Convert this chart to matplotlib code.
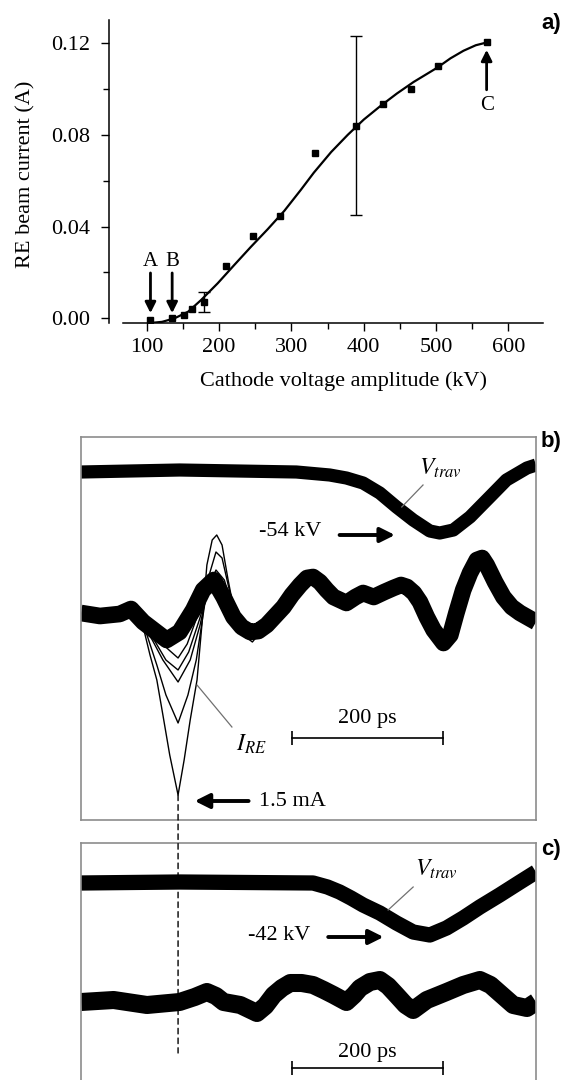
"""
RE beam current vs cathode voltage (a) and overlaid scope traces of the
travelling voltage pulse and RE current for two shots (b, c).
"""

import matplotlib.pyplot as plt
from matplotlib.patches import ConnectionPatch
from matplotlib.ticker import FixedLocator, MultipleLocator, FormatStrFormatter


# -----------------------------------------------------------------------------
# Data
# -----------------------------------------------------------------------------

# panel a: measured points
voltage_kv = [105, 135, 151, 162, 179, 210, 247, 284, 332, 389, 427, 466, 503, 570]
current_a = [-0.0007, 0.0, 0.0014, 0.0039, 0.0073, 0.0229, 0.0359, 0.0448,
             0.072, 0.084, 0.0933, 0.100, 0.110, 0.1202]

# only two points carry error bars
err_voltage_kv = [179, 389]
err_current_a = [0.0073, 0.084]
err_size_a = [0.0044, 0.039]

# fitted curve
fit_kv = [108, 121, 138, 157, 175, 198, 221, 244, 267, 290, 313, 331, 355,
          378, 400, 423, 446, 469, 490, 502, 520, 538, 555, 570]
fit_a = [-0.0019, -0.0015, 0.0, 0.0029, 0.008, 0.0153, 0.0233, 0.0312, 0.0388,
         0.0468, 0.0560, 0.0635, 0.0725, 0.0800, 0.0866, 0.0925, 0.098, 0.1030,
         0.107, 0.1093, 0.1133, 0.1166, 0.119, 0.1202]

# arrow markers A, B, C : (kV, tail, head, label y)
marker_labels = ["A", "B", "C"]
marker_kv = [105, 135, 570]
marker_tail_a = [0.0198, 0.0198, 0.0996]
marker_head_a = [0.0023, 0.0023, 0.1170]
marker_text_a = [0.0246, 0.0246, 0.0926]

# panel b: travelling voltage pulse (bundle centre)
b_vtrav_ps = [0, 130, 284, 328, 350, 372, 394, 416, 438, 460, 473, 491, 513,
              539, 561, 588, 600]
b_vtrav = [348, 350, 348, 345, 342, 337, 327, 313, 300, 289, 287, 290, 303,
           323, 340, 352, 355]

# panel b: RE current (bundle centre)
b_ire_ps = [0, 25, 51, 66, 82, 113, 130, 148, 161, 175, 188, 201, 212, 223, 234,
            245, 256, 267, 278, 289, 298, 306, 315, 324, 333, 350, 362, 372, 386,
            400, 412, 422, 430, 439, 447, 456, 465, 478, 487, 495, 504, 513, 522,
            529, 535, 546, 557, 568, 579, 600]
b_ire = [207, 204, 206, 211, 198, 180, 188, 210, 230, 240, 223, 203, 193, 188, 189,
         195, 204, 213, 225, 235, 242, 243, 238, 230, 223, 217, 223, 227, 223,
         228, 232, 235, 233, 227, 218, 203, 190, 177, 185, 207, 230, 247, 260,
         262, 255, 238, 223, 213, 207, 198]

# panel b: individual RE current shots that stand out of the bundle
b_shot1_ps = [65, 82, 91, 100, 108, 117, 128, 136, 144, 153, 160, 166, 173,
              179, 186, 194, 203, 214, 226, 239, 252]
b_shot1 = [205, 193, 165, 140, 105, 65, 25, 60, 100, 140, 200, 255, 280,
           285, 275, 240, 205, 185, 178, 190, 210]
b_shot2_ps = [71, 87, 100, 112, 128, 141, 152, 161, 169, 178, 186, 195, 206, 218, 231, 247]
b_shot2 = [203, 185, 155, 125, 97, 125, 160, 205, 245, 268, 262, 232, 200, 182, 185, 205]
b_shot3_ps = [78, 94, 108, 128, 144, 157, 167, 178, 189, 199, 212, 229]
b_shot3 = [200, 180, 160, 138, 160, 195, 230, 250, 240, 215, 195, 190]
b_shot4_ps = [80, 98, 112, 128, 142, 156, 168, 180, 195, 212]
b_shot4 = [198, 178, 160, 150, 168, 200, 230, 245, 225, 200]
b_shot5_ps = [84, 102, 116, 128, 140, 154, 168, 182, 200]
b_shot5 = [196, 180, 170, 162, 176, 205, 232, 240, 215]

# panel c: travelling voltage pulse
c_vtrav_ps = [0, 130, 306, 325, 341, 356, 372, 394, 416, 438, 460, 482, 504,
              526, 552, 579, 600]
c_vtrav = [197, 198, 197, 193, 188, 182, 175, 167, 157, 148, 145, 152, 162,
           173, 185, 198, 208]

# panel c: RE current
c_ire_ps = [0, 43, 87, 130, 150, 166, 178, 188, 210, 232, 243, 254, 265, 276,
            291, 306, 320, 333, 350, 360, 368, 381, 394, 405, 416, 428, 438,
            456, 482, 504, 526, 540, 552, 570, 588, 600]
c_ire = [78, 80, 75, 78, 83, 88, 84, 78, 75, 67, 74, 85, 92, 97,
         97, 95, 90, 85, 78, 85, 92, 98, 100, 94, 85, 75, 70,
         80, 88, 95, 100, 95, 87, 75, 72, 78]

# time of the RE current peak (dashed marker) and 200 ps scale bar
peak_ps = 128
scale_bar_ps = [278, 477]

OUT_PATH = "out.png"
FIG_W, FIG_H = 564, 1080
BOX_GREY = "#8c8c8c"


# -----------------------------------------------------------------------------
# Helpers
# -----------------------------------------------------------------------------


def px_rect(left, top, right, bottom):
    """Axes rectangle in figure fractions from pixel edges."""
    return [left / FIG_W, 1 - bottom / FIG_H, (right - left) / FIG_W, (bottom - top) / FIG_H]


def fig_text(fig, x_px, y_px, s, **kw):
    fig.text(x_px / FIG_W, 1 - y_px / FIG_H, s, **kw)


def thick_arrow(ax, x0, y0, x1, y1, lw=2.4, scale=20):
    ax.annotate(
        "",
        xy=(x1, y1),
        xytext=(x0, y0),
        arrowprops=dict(arrowstyle="-|>", color="black", lw=lw,
                        mutation_scale=scale, shrinkA=0, shrinkB=0),
    )


def scope_box(ax, ylim, show_bottom=True):
    ax.set_xlim(0, 600)
    ax.set_ylim(*ylim)
    ax.set_xticks([])
    ax.set_yticks([])
    for spine in ax.spines.values():
        spine.set_color(BOX_GREY)
        spine.set_linewidth(1.2)
    if not show_bottom:
        ax.spines["bottom"].set_visible(False)


def bundle(ax, t, y, lw):
    ax.plot(t, y, color="black", lw=lw, solid_joinstyle="round", solid_capstyle="butt")


# -----------------------------------------------------------------------------
# Figure
# -----------------------------------------------------------------------------


def main() -> None:
    plt.rcParams["font.family"] = ["Liberation Serif", "DejaVu Serif"]
    plt.rcParams["mathtext.fontset"] = "stix"

    fig = plt.figure(figsize=(FIG_W / 100, FIG_H / 100), dpi=100)

    # ---- panel a ------------------------------------------------------------
    ax_a = fig.add_axes(px_rect(123, 20, 543, 323))
    ax_a.plot(fit_kv, fit_a, color="black", lw=1.6)
    ax_a.plot(voltage_kv, current_a, "s", color="black", ms=4.5)
    ax_a.errorbar(err_voltage_kv, err_current_a, yerr=err_size_a, fmt="none",
                  ecolor="black", elinewidth=1.0, capsize=4.5, capthick=1.0)

    ax_a.set_xlim(67, 648)
    ax_a.set_ylim(-0.002, 0.130)
    ax_a.spines["top"].set_visible(False)
    ax_a.spines["right"].set_visible(False)
    ax_a.spines["left"].set_position(("outward", 10))
    for sp in ("left", "bottom"):
        ax_a.spines[sp].set_linewidth(1.1)

    ax_a.xaxis.set_major_locator(FixedLocator([100, 200, 300, 400, 500, 600]))
    ax_a.xaxis.set_minor_locator(MultipleLocator(50))
    ax_a.yaxis.set_major_locator(FixedLocator([0.0, 0.04, 0.08, 0.12]))
    ax_a.yaxis.set_minor_locator(MultipleLocator(0.02))
    ax_a.yaxis.set_major_formatter(FormatStrFormatter("%.2f"))
    ax_a.tick_params(which="major", length=6, width=1.0, labelsize=16)
    ax_a.tick_params(which="minor", length=4, width=1.0)
    ax_a.tick_params(axis="y", pad=7.5)
    ax_a.tick_params(axis="x", pad=5)

    ax_a.set_xlabel("Cathode voltage amplitude (kV)", fontsize=16)
    ax_a.xaxis.set_label_coords(0.526, -0.160)
    ax_a.set_ylabel("RE beam current (A)", fontsize=16)
    ax_a.yaxis.set_label_coords(-0.208, 0.492)

    for label, kv, tail, head, ty in zip(marker_labels, marker_kv, marker_tail_a,
                                         marker_head_a, marker_text_a):
        thick_arrow(ax_a, kv, tail, kv, head, lw=2.0, scale=16)
        ax_a.text(kv, ty, label, ha="center", va="center", fontsize=15)

    # ---- panel b ------------------------------------------------------------
    ax_b = fig.add_axes(px_rect(81, 437, 536, 820))
    scope_box(ax_b, (0, 383))
    bundle(ax_b, b_vtrav_ps, b_vtrav, 9.5)
    bundle(ax_b, b_ire_ps, b_ire, 12)
    for t, y in [(b_shot1_ps, b_shot1), (b_shot2_ps, b_shot2), (b_shot3_ps, b_shot3),
                 (b_shot4_ps, b_shot4), (b_shot5_ps, b_shot5)]:
        ax_b.plot(t, y, color="black", lw=1.0)

    ax_b.text(474, 352, r"$V_{trav}$", fontsize=17, ha="center", va="center")
    ax_b.plot([451, 423], [335, 313], color="#707070", lw=0.9)
    ax_b.text(276, 288, "-54 kV", fontsize=16, ha="center", va="center")
    thick_arrow(ax_b, 341, 285, 414, 285, lw=2.8, scale=22)

    ax_b.text(224, 76, r"$I_{RE}$", fontsize=17, ha="center", va="center")
    ax_b.plot([199, 153], [93, 135], color="#707070", lw=0.9)
    ax_b.text(279, 18, "1.5 mA", fontsize=16, ha="center", va="center")
    thick_arrow(ax_b, 221, 19, 150, 19, lw=2.8, scale=22)

    ax_b.plot(scale_bar_ps, [82, 82], color="black", lw=1.2, marker="|", ms=10, mew=1.2)
    ax_b.text(sum(scale_bar_ps) / 2, 101, "200 ps", fontsize=16, ha="center", va="center")

    # ---- panel c ------------------------------------------------------------
    ax_c = fig.add_axes(px_rect(81, 843, 536, 1080))
    scope_box(ax_c, (0, 237), show_bottom=False)
    bundle(ax_c, c_vtrav_ps, c_vtrav, 11)
    bundle(ax_c, c_ire_ps, c_ire, 13)

    ax_c.text(468, 211, r"$V_{trav}$", fontsize=17, ha="center", va="center")
    ax_c.plot([438, 405], [193, 170], color="#707070", lw=0.9)
    ax_c.text(261, 145, "-42 kV", fontsize=16, ha="center", va="center")
    thick_arrow(ax_c, 326, 143, 399, 143, lw=2.8, scale=22)

    ax_c.plot(scale_bar_ps, [12, 12], color="black", lw=1.2, marker="|", ms=10, mew=1.2)
    ax_c.text(sum(scale_bar_ps) / 2, 28, "200 ps", fontsize=16, ha="center", va="center")

    # dashed marker from the deepest RE current peak down into panel c
    link = ConnectionPatch(xyA=(peak_ps, 25), coordsA=ax_b.transData,
                           xyB=(peak_ps, 27), coordsB=ax_c.transData,
                           color="black", lw=1.0, linestyle=(0, (4, 3)))
    fig.add_artist(link)

    # panel letters
    for letter, y_px in [("a)", 24), ("b)", 441), ("c)", 850)]:
        fig_text(fig, 551, y_px, letter, family="Liberation Sans", weight="bold",
                 fontsize=16, ha="center", va="center")

    fig.savefig(OUT_PATH, dpi=100)
    print(f"saved {OUT_PATH}")


if __name__ == "__main__":
    main()
